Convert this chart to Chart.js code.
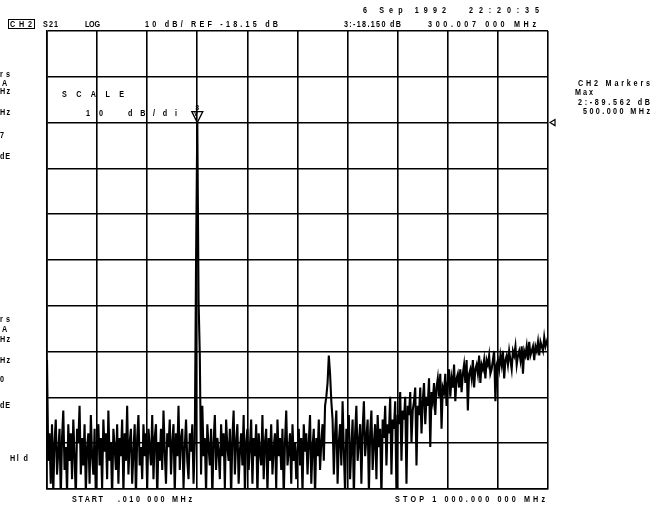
<!DOCTYPE html>
<html>
<head>
<meta charset="utf-8">
<script src="https://cdn.jsdelivr.net/npm/chart.js@4/dist/chart.umd.min.js"></script>
<style>
  html, body { margin: 0; padding: 0; background: #fff; }
  #wrap { width: 662px; height: 507px; position: relative; }
</style>
</head>
<body>
<div id="wrap"><canvas id="grafico"></canvas></div>
<script>
// Sweep: S21 log mag, 401 points, .01 MHz -> 1000 MHz
const START_MHZ = 0.01;
const STOP_MHZ = 1000;
const REF_DB = -18.15;
const MARKER3_MHZ = 300.007;

// trace values in dB
const traceDb = [
  // 0-19
  -70, -92, -86, -97, -84, -99, -88, -83, -95, -90, -85, -100, -87, -81, -94, -89, -99, -84, -92, -86,
  // 20-39
  -96, -83, -91, -100, -85, -88, -80, -95, -87, -93, -84, -99, -89, -86, -97, -82, -91, -95, -85, -100,
  // 40-59
  -88, -84, -93, -87, -98, -83, -90, -86, -96, -81, -92, -88, -100, -85, -89, -94, -84, -97, -87, -91,
  // 60-79
  -83, -99, -86, -92, -80, -95, -88, -85, -97, -90, -84, -100, -87, -82, -93, -89, -96, -84, -91, -86,
  // 80-99
  -98, -85, -89, -93, -82, -96, -87, -84, -100, -88, -92, -85, -94, -81, -90, -97, -86, -89, -83, -95,
  // 100-118
  -88, -84, -99, -86, -91, -80, -94, -87, -85, -98, -89, -83, -92, -96, -86, -90, -84, -97, -88,
  // 119-121 carrier at 300 MHz
  -48.6, -18.15, -57,
  // 122-139
  -69, -95, -80, -91, -87, -99, -84, -89, -93, -85, -100, -88, -82, -94, -87, -90, -96, -84,
  // 140-159
  -91, -86, -98, -83, -89, -92, -85, -100, -87, -81, -95, -88, -84, -97, -90, -86, -93, -82, -99, -88,
  // 160-179
  -85, -94, -89, -83, -97, -87, -91, -84, -100, -86, -90, -93, -82, -96, -88, -85, -99, -87, -92, -84,
  // 180-199
  -95, -89, -86, -98, -83, -91, -87, -94, -85, -100, -88, -81, -93, -90, -86, -97, -84, -92, -88, -96,
  // 200 (marker 2, 500 MHz)
  -89.562,
  // 201-219
  -85, -93, -87, -99, -84, -90, -86, -95, -88, -82, -97, -89, -85, -100, -87, -91, -83, -94, -88,
  // 220-229 spur
  -84, -92, -80, -78, -75, -69, -73, -79, -83, -95,
  // 230-249
  -86, -81, -97, -88, -84, -93, -79, -90, -99, -85, -87, -82, -96, -89, -83, -100, -86, -80, -92, -88,
  // 250-269
  -84, -97, -85, -79, -91, -87, -83, -99, -86, -81, -94, -88, -84, -96, -82, -89, -85, -100, -83, -87,
  // 270-289
  -80, -93, -84, -86, -78, -95, -83, -85, -79, -99, -82, -84, -77, -92, -81, -83, -78, -97, -80, -82,
  // 290-309
  -77, -88, -81, -79, -76, -93, -80, -82, -76, -86, -79, -75, -84, -78, -80, -74, -89, -77, -79, -75,
  // 310-329
  -82, -76, -74, -78, -73, -85, -76, -77, -73, -80, -75, -72, -78, -74, -76, -71, -79, -74, -73, -76,
  // 330-349
  -72, -77, -73, -71, -75, -70, -81, -73, -72, -74, -70, -76, -72, -71, -73, -69, -75, -71, -72, -70,
  // 350-369
  -74, -70, -71, -69, -73, -72, -70, -68, -79, -71, -70, -72, -69, -71, -68, -74, -70, -69, -71, -68,
  // 370-389
  -70, -72, -68, -69, -67, -71, -69, -68, -70, -67, -73, -68, -69, -67, -70, -66, -69, -68, -67, -70,
  // 390-400
  -67, -68, -66, -69, -66, -67, -68, -65, -67, -66, -65,
];

// 10 dB/div, reference line two divisions below top
const yTicksDb = [-98.15, -88.15, -78.15, -68.15, -58.15, -48.15, -38.15, -28.15, -18.15, -8.15, 1.85];
const xTicksMhz = [0, 100, 200, 300, 400, 500, 600, 700, 800, 900, 1000];

const sweepMhz = traceDb.map(
  (_, i) => START_MHZ + (i * (STOP_MHZ - START_MHZ)) / (traceDb.length - 1),
);

// annotation text: [text, x start, x end, baseline]
const TEXTOS = [
  ["CH2", 10, 32, 27],
  ["S21", 43, 58, 27],
  ["LOG", 85, 100, 27],
  ["10 dB/ REF -18.15 dB", 145, 278, 27],
  ["6 Sep 1992", 363, 446, 13],
  ["22:20:35", 469, 539, 13],
  ["3:-18.150 dB", 344, 401, 27],
  ["300.007 000 MHz", 428, 536, 27],
  ["CH2 Markers", 578, 650, 86],
  ["Max", 575, 593, 95],
  ["2:-89.562 dB", 578, 650, 105],
  ["500.000 MHz", 583, 650, 114],
  ["SCALE", 62, 124, 97],
  ["10", 86, 103, 116],
  ["dB/di", 128, 177, 116],
  ["START", 72, 103, 502],
  [".010 000 MHz", 118, 192, 502],
  ["STOP 1 000.000 000 MHz", 395, 545, 502],
  // cut-off CH1 panel at the left
  ["rs", 0, 10, 77],
  ["A", 2, 8, 86],
  ["Hz", 0, 10, 94],
  ["Hz", 0, 10, 115],
  ["7", 0, 5, 138],
  ["dE", 0, 10, 159],
  ["rs", 0, 10, 322],
  ["A", 2, 8, 332],
  ["Hz", 0, 10, 342],
  ["Hz", 0, 10, 363],
  ["0", 0, 5, 382],
  ["dE", 0, 10, 408],
  ["Hl d", 10, 28, 461],
];

const ESTREITO = 0.8; // narrow plotter lettering

// spreads the characters so the string spans x0..x1
function textoEspacado(ctx, str, x0, x1, y) {
  const chars = str.split("");
  const larg = (ch) => ctx.measureText(ch).width * ESTREITO;
  const natural = chars.reduce((s, ch) => s + larg(ch), 0);
  const extra = chars.length > 1 ? (x1 - x0 - natural) / (chars.length - 1) : 0;
  let x = x0;
  chars.forEach((ch) => {
    ctx.save();
    ctx.translate(x, y);
    ctx.scale(ESTREITO, 1);
    ctx.fillText(ch, 0, 0);
    ctx.restore();
    x += larg(ch) + extra;
  });
}

const anotacoes = {
  id: "anotacoes",
  afterDraw(chart) {
    const ctx = chart.ctx;
    const xs = chart.scales.x;
    const ys = chart.scales.y;
    ctx.save();
    ctx.fillStyle = "#000";
    ctx.strokeStyle = "#000";
    ctx.font = "bold 9px 'Liberation Sans', Arial, sans-serif";
    ctx.textBaseline = "alphabetic";
    ctx.textAlign = "left";

    TEXTOS.forEach(([t, x0, x1, y]) => textoEspacado(ctx, t, x0, x1, y));

    // box round CH2
    ctx.lineWidth = 1;
    ctx.strokeRect(8.5, 19.5, 26, 9);

    // "v" of dB/div, under the marker
    textoEspacado(ctx, "v", 194, 199, 116);

    // marker 3 on the carrier
    let idx = 0;
    sweepMhz.forEach((f, i) => {
      if (Math.abs(f - MARKER3_MHZ) < Math.abs(sweepMhz[idx] - MARKER3_MHZ)) idx = i;
    });
    const mx = xs.getPixelForValue(sweepMhz[idx]);
    const my = ys.getPixelForValue(traceDb[idx]);
    ctx.lineWidth = 1.3;
    ctx.beginPath();
    ctx.moveTo(mx, my);
    ctx.lineTo(mx - 5.5, my - 11);
    ctx.lineTo(mx + 5.5, my - 11);
    ctx.closePath();
    ctx.stroke();
    ctx.font = "bold 7px 'Liberation Sans', Arial, sans-serif";
    ctx.textAlign = "center";
    ctx.fillText("3", mx, my - 13);

    // reference level pointer on the right edge
    const ry = ys.getPixelForValue(REF_DB);
    const rx = chart.chartArea.right + 2;
    ctx.lineWidth = 1.2;
    ctx.beginPath();
    ctx.moveTo(rx, ry);
    ctx.lineTo(rx + 5, ry - 3);
    ctx.lineTo(rx + 5, ry + 3);
    ctx.closePath();
    ctx.stroke();
    ctx.restore();
  },
};

function criarGrafico() {
  const canvas = document.getElementById("grafico");
  const ctx = canvas.getContext("2d");
  new Chart(ctx, {
    type: "line",
    data: {
      labels: sweepMhz,
      datasets: [
        {
          label: "S21",
          data: traceDb,
          borderColor: "#000",
          borderWidth: 2.1,
          pointRadius: 0,
          tension: 0,
          fill: false,
        },
      ],
    },
    options: {
      responsive: true,
      maintainAspectRatio: false,
      animation: false,
      layout: { padding: { left: 47, right: 114, top: 31, bottom: 18 } },
      plugins: {
        legend: { display: false },
        tooltip: { enabled: false },
      },
      scales: {
        x: {
          type: "linear",
          min: 0,
          max: STOP_MHZ,
          afterBuildTicks: (s) => {
            s.ticks = xTicksMhz.map((v) => ({ value: v }));
          },
          ticks: { display: false },
          grid: { color: "#000", lineWidth: 1.6, drawTicks: false },
          border: { color: "#000", width: 1.6 },
        },
        y: {
          min: yTicksDb[0],
          max: yTicksDb[yTicksDb.length - 1],
          afterBuildTicks: (s) => {
            s.ticks = yTicksDb.map((v) => ({ value: v }));
          },
          ticks: { display: false },
          grid: { color: "#000", lineWidth: 1.6, drawTicks: false },
          border: { color: "#000", width: 1.6 },
        },
      },
    },
    plugins: [anotacoes],
  });
}

criarGrafico();
</script>
</body>
</html>
